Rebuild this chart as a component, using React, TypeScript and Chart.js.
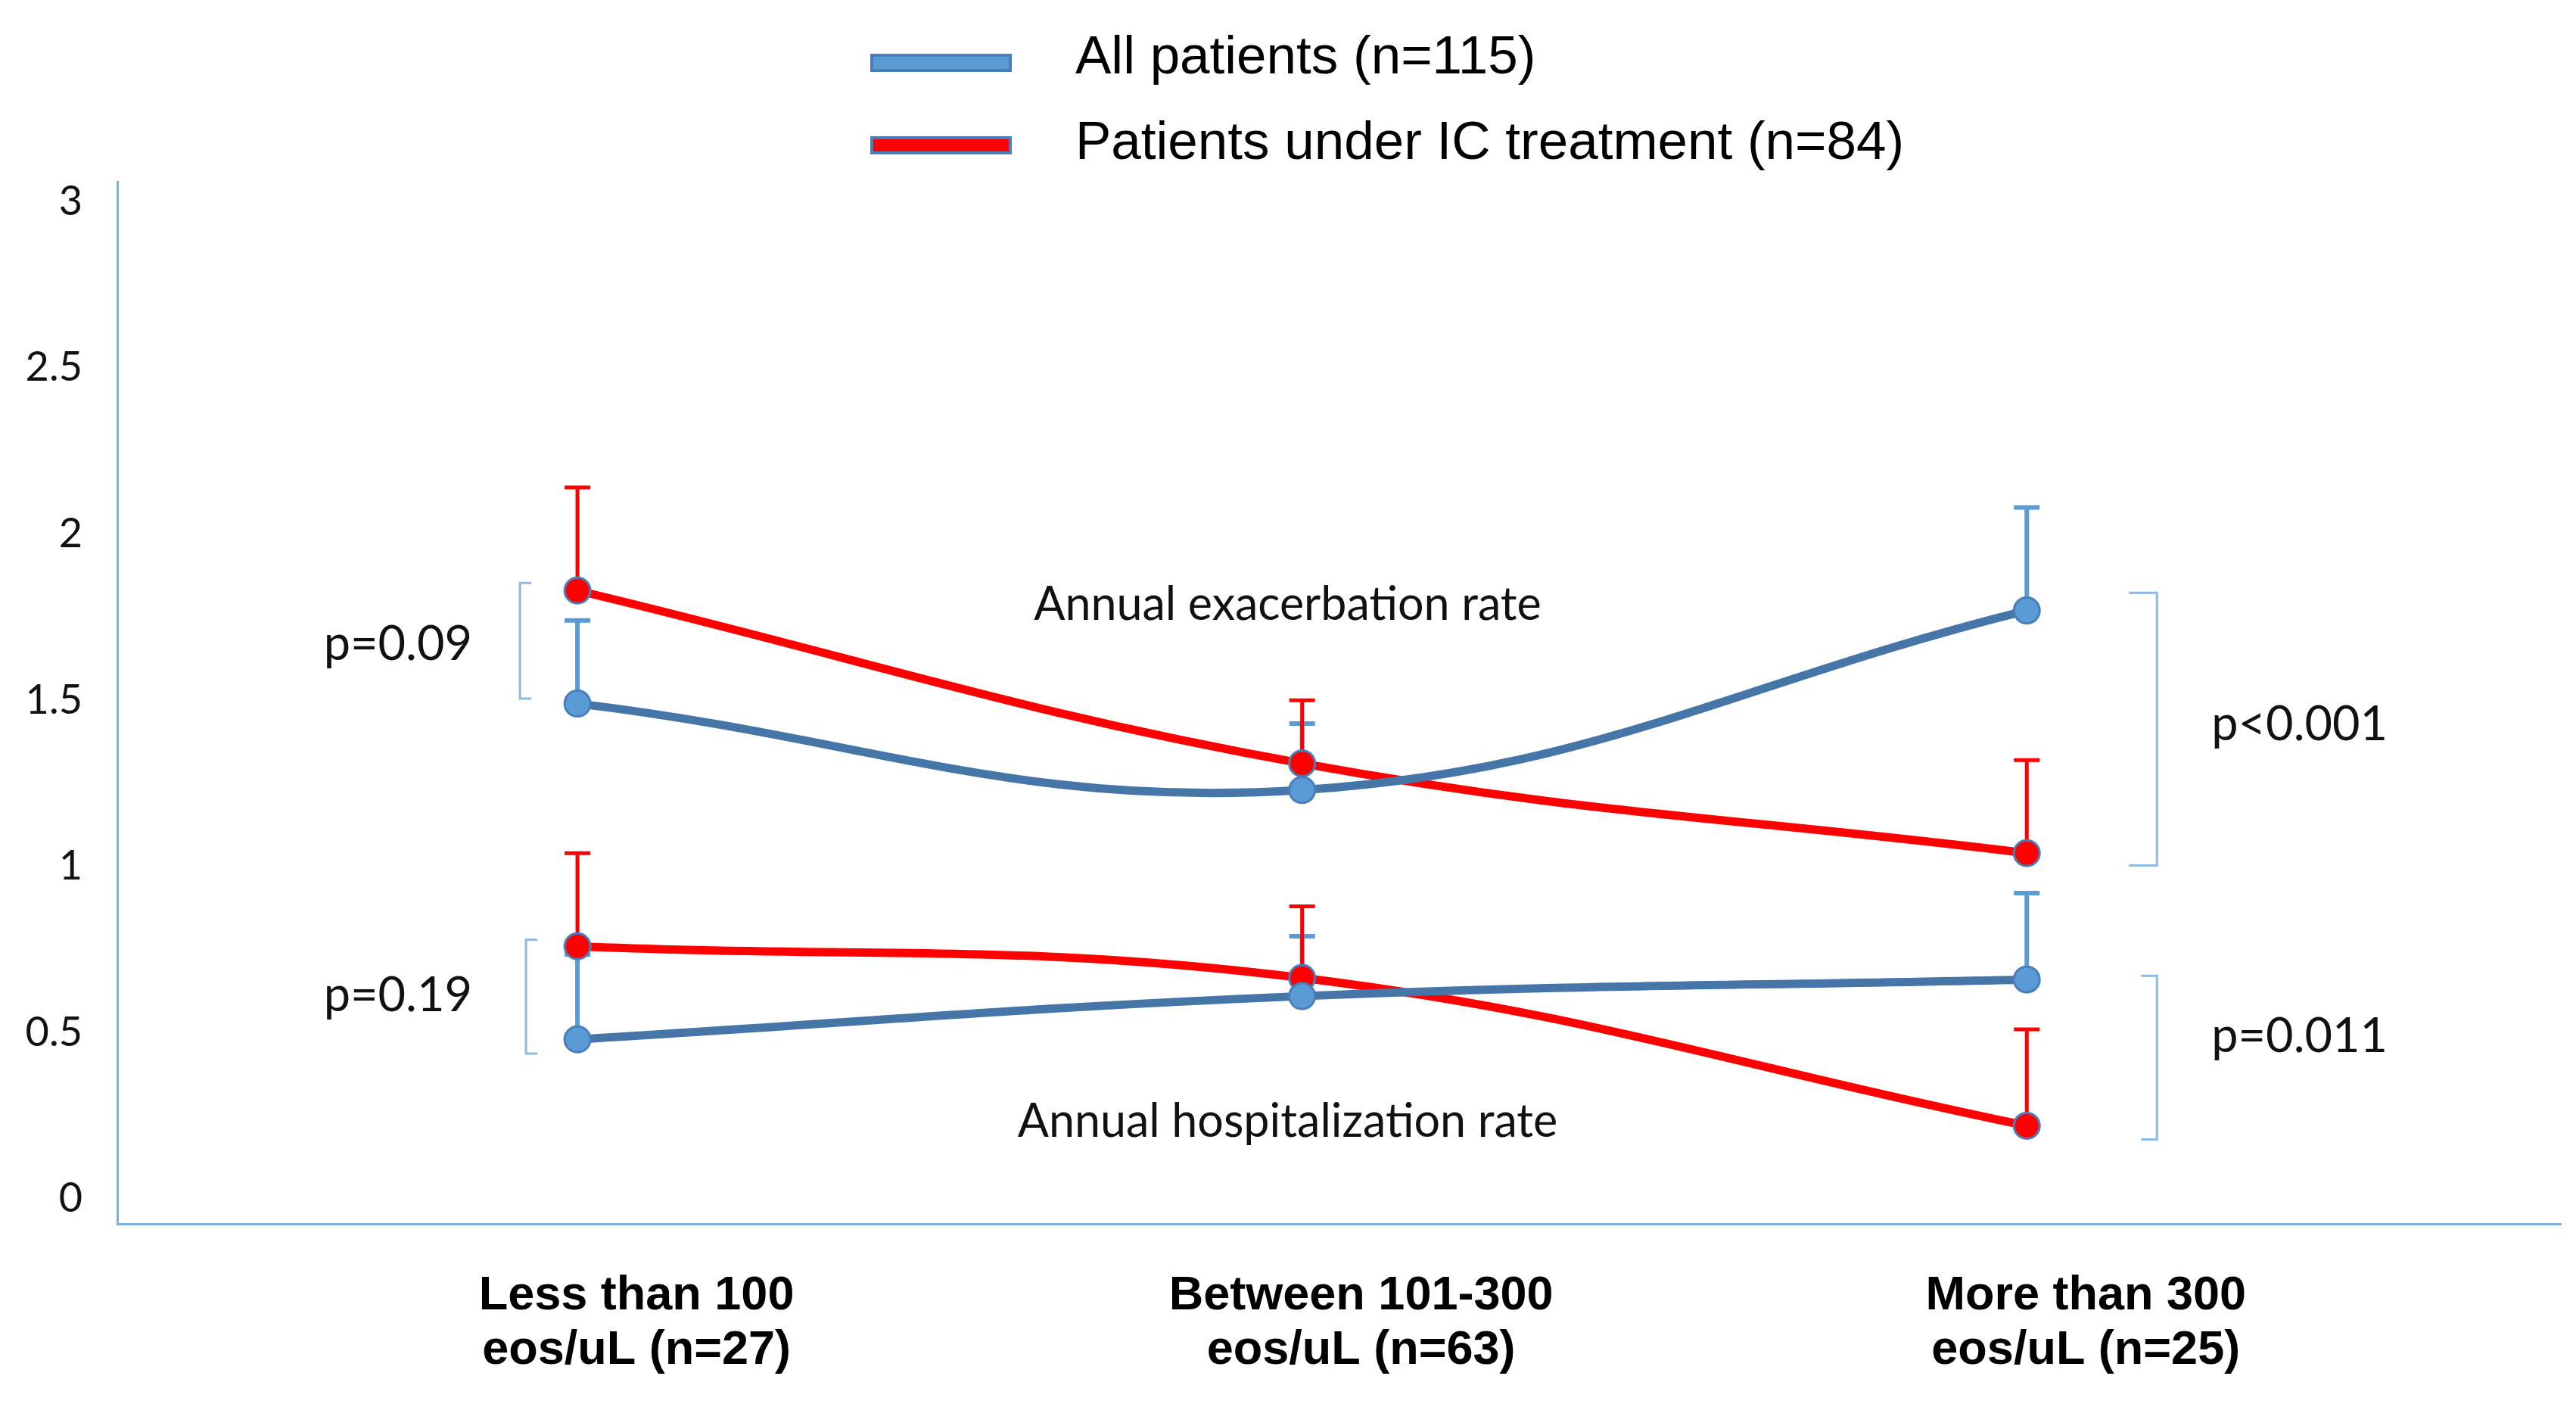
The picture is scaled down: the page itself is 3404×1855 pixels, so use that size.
import { useEffect, useRef } from 'react';
import { Chart, registerables } from 'chart.js';

Chart.register(...registerables);

// eosinophil groups (x axis, two-line labels)
const categories = [
  ['Less than 100', 'eos/uL (n=27)'],
  ['Between 101-300', 'eos/uL (n=63)'],
  ['More than 300', 'eos/uL (n=25)'],
];
const yTicks = [0, 0.5, 1, 1.5, 2, 2.5, 3];

// annual exacerbation rate (mean and top of error bar)
const exacAll = [1.49, 1.23, 1.77];
const exacAllTop = [1.74, 1.43, 2.08];
const exacIC = [1.83, 1.31, 1.04];
const exacICTop = [2.14, 1.5, 1.32];

// annual hospitalization rate
const hospAll = [0.48, 0.61, 0.66];
const hospAllTop = [0.735, 0.79, 0.92];
const hospIC = [0.76, 0.665, 0.22];
const hospICTop = [1.04, 0.88, 0.51];

const legendLabels = ['All patients (n=115)', 'Patients under IC treatment (n=84)'];
const rateLabels = ['Annual exacerbation rate', 'Annual hospitalization rate'];
const rateLabelY = [1.787, 0.232];

// p-value brackets: span in y units and where the text sits
const pTexts = ['p=0.09', 'p=0.19', 'p<0.001', 'p=0.011'];
const pSide = ['left', 'left', 'right', 'right'];
const pFrom = [1.505, 0.437, 1.003, 0.179];
const pTo = [1.853, 0.78, 1.823, 0.671];
const pTextY = [1.668, 0.61, 1.425, 0.487];

const BLUE_LINE = '#4675A8';
const BLUE_MARK = '#5B9BD5';
const RED = '#FF0000';
const AXIS = '#7FAEDD';
const LABEL_FONT = 'Lato, "Open Sans", sans-serif';

const errorBars = {
  id: 'errorBars',
  beforeDatasetsDraw(chart: any) {
    const { ctx, scales } = chart;
    chart.data.datasets.forEach((ds: any) => {
      ctx.save();
      ctx.strokeStyle = ds.errColor;
      ctx.lineWidth = ds.errWidth;
      ds.data.forEach((p: any, i: number) => {
        const x = scales.x.getPixelForValue(p.x);
        const y0 = scales.y.getPixelForValue(p.y);
        const y1 = scales.y.getPixelForValue(ds.errTop[i]);
        ctx.beginPath();
        ctx.moveTo(x, y0);
        ctx.lineTo(x, y1);
        ctx.moveTo(x - 17, y1);
        ctx.lineTo(x + 17, y1);
        ctx.stroke();
      });
      ctx.restore();
    });
  },
};

const annotations = {
  id: 'annotations',
  afterDraw(chart: any) {
    const { ctx, scales } = chart;
    const xs = scales.x;
    const ys = scales.y;
    ctx.save();

    // legend
    const swatchFill = [BLUE_MARK, RED];
    const swatchY = [83, 192];
    const textY = [77, 190];
    legendLabels.forEach((label, i) => {
      ctx.fillStyle = swatchFill[i];
      ctx.strokeStyle = '#4A7EBB';
      ctx.lineWidth = 4;
      ctx.fillRect(1152, swatchY[i] - 10, 183, 20);
      ctx.strokeRect(1152, swatchY[i] - 10, 183, 20);
      ctx.fillStyle = '#000';
      ctx.font = '71px "Liberation Sans", Arial, sans-serif';
      ctx.textAlign = 'left';
      ctx.textBaseline = 'middle';
      ctx.fillText(label, 1421, textY[i]);
    });

    // rate labels
    ctx.font = '61px ' + LABEL_FONT;
    ctx.textAlign = 'center';
    ctx.fillStyle = '#111';
    rateLabels.forEach((t, i) => {
      ctx.fillText(t, xs.getPixelForValue(0.98), ys.getPixelForValue(rateLabelY[i]));
    });

    // p-value brackets
    const leftX = xs.getPixelForValue(0);
    const rightX = xs.getPixelForValue(2);
    ctx.strokeStyle = '#8FB8E4';
    ctx.lineWidth = 3;
    ctx.font = '63px ' + LABEL_FONT;
    pTexts.forEach((t, i) => {
      const top = ys.getPixelForValue(pTo[i]);
      const bottom = ys.getPixelForValue(pFrom[i]);
      ctx.beginPath();
      if (pSide[i] === 'left') {
        const bx = leftX - 76 + (i === 1 ? 8 : 0);
        ctx.moveTo(bx + 15, top);
        ctx.lineTo(bx, top);
        ctx.lineTo(bx, bottom);
        ctx.lineTo(bx + 15, bottom);
        ctx.stroke();
        ctx.textAlign = 'right';
        ctx.fillText(t, leftX - 139, ys.getPixelForValue(pTextY[i]));
      } else {
        const bx = rightX + 172;
        const tick = i === 2 ? 37 : 21;
        ctx.moveTo(bx - tick, top);
        ctx.lineTo(bx, top);
        ctx.lineTo(bx, bottom);
        ctx.lineTo(bx - tick, bottom);
        ctx.stroke();
        ctx.textAlign = 'left';
        ctx.fillText(t, rightX + 244, ys.getPixelForValue(pTextY[i]));
      }
    });
    ctx.restore();
  },
};

function series(values: number[], tops: number[], kind: 'all' | 'ic') {
  const all = kind === 'all';
  return {
    data: values.map((v, i) => ({ x: i, y: v })),
    errTop: tops,
    errColor: all ? BLUE_MARK : RED,
    errWidth: all ? 6 : 5,
    borderColor: all ? BLUE_LINE : RED,
    borderWidth: 11,
    pointRadius: 17,
    pointBackgroundColor: all ? BLUE_MARK : RED,
    pointBorderColor: '#4A7EBB',
    pointBorderWidth: 3,
    tension: 0.4,
    fill: false,
  };
}

export default function App() {
  const canvasRef = useRef<HTMLCanvasElement>(null);
  const chartRef = useRef<Chart | null>(null);

  useEffect(() => {
    if (!canvasRef.current) return;
    if (chartRef.current) chartRef.current.destroy();

    chartRef.current = new Chart(canvasRef.current, {
      type: 'line',
      data: {
        datasets: [
          series(hospAll, hospAllTop, 'all'),
          series(hospIC, hospICTop, 'ic'),
          series(exacAll, exacAllTop, 'all'),
          series(exacIC, exacICTop, 'ic'),
        ] as any,
      },
      options: {
        animation: false,
        responsive: true,
        maintainAspectRatio: false,
        layout: { padding: { top: 240, right: 11, left: 0, bottom: 0 } },
        plugins: {
          legend: { display: false },
          tooltip: { enabled: false },
        },
        scales: {
          x: {
            type: 'linear',
            min: -0.635,
            max: 2.737,
            grid: { display: false, drawTicks: false },
            border: { display: true, color: AXIS, width: 3 },
            afterBuildTicks: (scale: any) => {
              scale.ticks = categories.map((_, i) => ({ value: i }));
            },
            afterFit: (scale: any) => {
              scale.height = 238;
            },
            ticks: {
              autoSkip: false,
              maxRotation: 0,
              padding: 60,
              labelOffset: 78,
              color: '#000',
              font: { family: '"Liberation Sans", Arial, sans-serif', weight: 'bold', size: 63, lineHeight: 1.14 },
              callback: (value: any) => categories[value as number] ?? '',
            },
          },
          y: {
            type: 'linear',
            min: -0.075,
            max: 3.06,
            grid: { display: false, drawTicks: false },
            border: { display: true, color: AXIS, width: 3 },
            afterBuildTicks: (scale: any) => {
              scale.ticks = yTicks.map((v) => ({ value: v }));
            },
            afterFit: (scale: any) => {
              scale.width = 155;
            },
            ticks: {
              padding: 46,
              color: '#111',
              font: { family: LABEL_FONT, size: 54 },
              callback: (value: any) => String(value),
            },
          },
        },
      },
      plugins: [errorBars, annotations],
    });

    return () => {
      if (chartRef.current) {
        chartRef.current.destroy();
        chartRef.current = null;
      }
    };
  }, []);

  return (
    <div style={{ position: 'fixed', left: 0, top: 0, width: '100vw', height: '100vh', background: '#fff' }}>
      <canvas ref={canvasRef} />
    </div>
  );
}
